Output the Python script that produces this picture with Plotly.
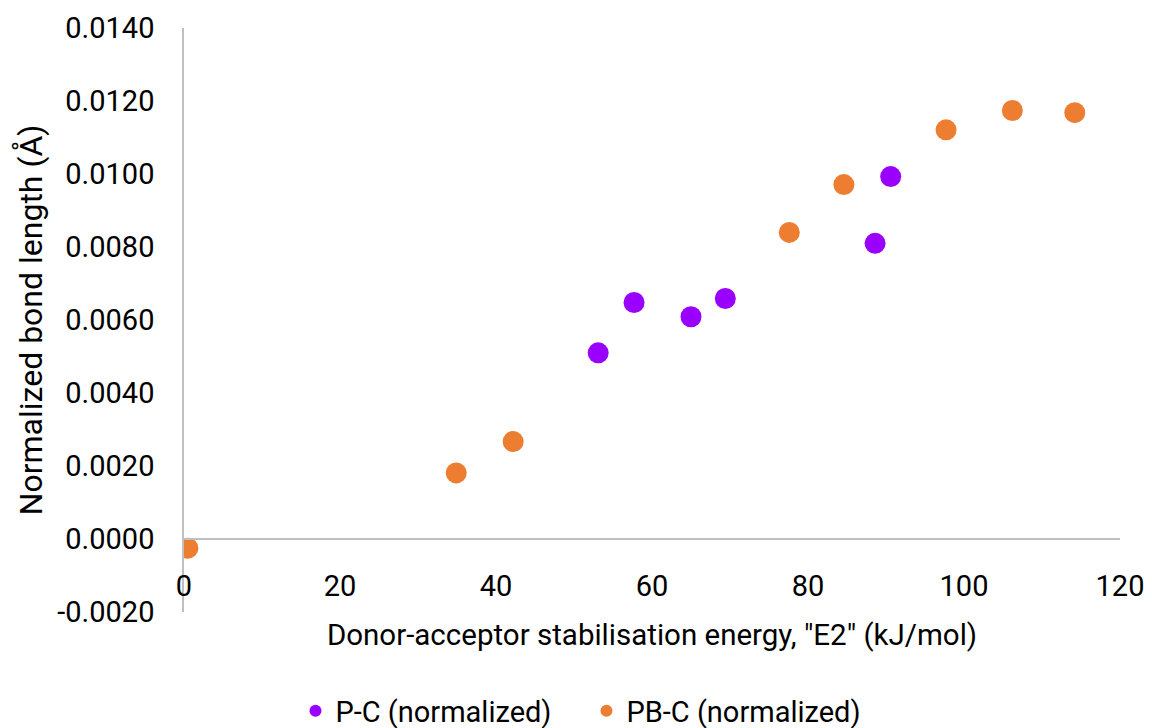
import plotly.graph_objects as go

# Donor-acceptor stabilisation energy E2 (kJ/mol) vs normalized bond length (Å)
pc_energy = [53.1, 57.7, 65.0, 69.4, 88.6, 90.6]
pc_length = [0.00510, 0.00648, 0.00609, 0.00659, 0.00810, 0.00993]

pbc_energy = [0.5, 34.9, 42.2, 77.6, 84.6, 97.7, 106.2, 114.2]
pbc_length = [-0.00025, 0.00181, 0.00267, 0.00840, 0.00971, 0.01121, 0.01174, 0.01168]

x_ticks = [0, 20, 40, 60, 80, 100, 120]
y_ticks = [-0.002, 0.0, 0.002, 0.004, 0.006, 0.008, 0.010, 0.012, 0.014]

FONT = "Roboto"
AXIS_GREY = "#BFBFBF"

fig = go.Figure()
fig.add_trace(go.Scatter(
    x=pc_energy, y=pc_length, mode="markers", name="P-C (normalized)",
    marker=dict(color="#9900FF", size=21, line=dict(width=0)),
))
fig.add_trace(go.Scatter(
    x=pbc_energy, y=pbc_length, mode="markers", name="PB-C (normalized)",
    marker=dict(color="#ED7D31", size=21, line=dict(width=0)),
))

fig.update_layout(
    width=1152, height=728,
    margin=dict(l=184, r=32, t=28, b=116, autoexpand=False),
    paper_bgcolor="white", plot_bgcolor="white",
    font=dict(family=FONT, size=29, color="#000000"),
    showlegend=True,
    legend=dict(orientation="h", x=0.43, xanchor="center",
                yref="container", y=(728 - 711) / 728, yanchor="middle",
                font=dict(size=29), itemsizing="constant", entrywidth=246),
    xaxis=dict(
        range=[0, 120], tickvals=x_ticks, ticktext=[str(v) for v in x_ticks],
        tickfont=dict(size=29),
        showgrid=False, zeroline=False, showline=True, linecolor=AXIS_GREY, linewidth=1.5,
        ticks="", anchor="free", position=0.125, ticklabelstandoff=21, automargin=False,
        title=dict(text='Donor-acceptor stabilisation energy, "E2" (kJ/mol)',
                   font=dict(size=29.5), standoff=22),
    ),
    yaxis=dict(
        range=[-0.002, 0.014], tickvals=y_ticks,
        ticktext=[f"{v:.4f}" for v in y_ticks],
        tickfont=dict(size=29),
        showgrid=False, zeroline=False, showline=True, linecolor=AXIS_GREY, linewidth=1.5,
        ticks="", ticklabelstandoff=22, automargin=False,
        title=dict(text="Normalized bond length (Å)", font=dict(size=32), standoff=5),
    ),
)

fig.write_html("out.html")
